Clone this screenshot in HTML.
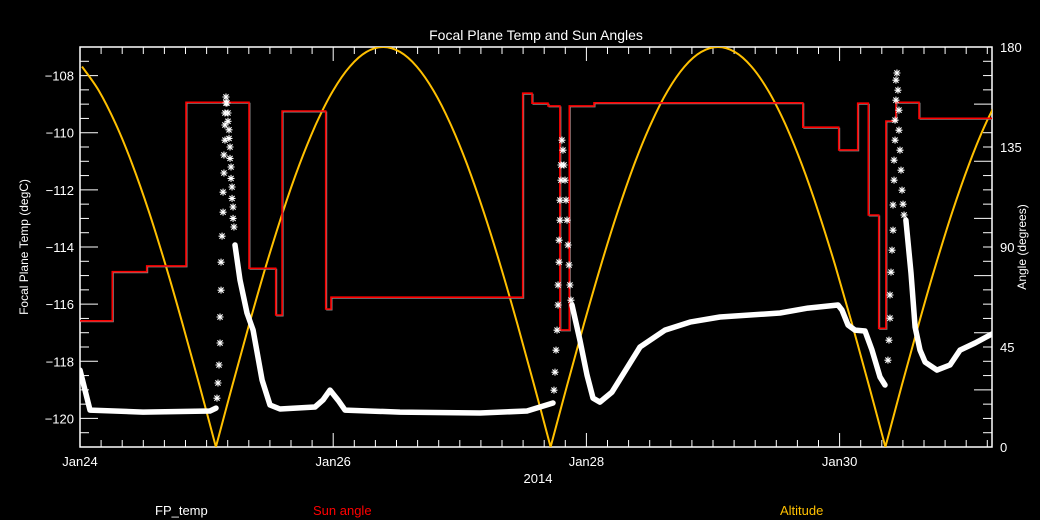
<!DOCTYPE html>
<html><head><meta charset="utf-8"><style>
html,body{margin:0;padding:0;background:#000;}
svg{display:block;font-family:"Liberation Sans",sans-serif;}
</style></head><body>
<svg id="chart" width="1040" height="520" xmlns="http://www.w3.org/2000/svg">
<rect x="0" y="0" width="1040" height="520" fill="#000"/>
<text x="536" y="40" fill="#fff" font-size="14" text-anchor="middle">Focal Plane Temp and Sun Angles</text>
<text transform="translate(28,247) rotate(-90)" fill="#fff" font-size="12" text-anchor="middle">Focal Plane Temp (degC)</text>
<text transform="translate(1026,247) rotate(-90)" fill="#fff" font-size="12" text-anchor="middle">Angle (degrees)</text>
<text x="538" y="483" fill="#fff" font-size="13" text-anchor="middle">2014</text>
<text x="155" y="515" fill="#fff" font-size="13">FP_temp</text>
<text x="313" y="515" fill="#ff0000" font-size="13">Sun angle</text>
<text x="780" y="515" fill="#ffc000" font-size="13">Altitude</text>
<defs><clipPath id="pc"><rect x="80" y="47" width="912" height="400"/></clipPath></defs>
<g id="axes"></g>
<g id="plot" clip-path="url(#pc)"></g>
</svg>
<script>
// x: days since Jan24 00:00
const xTickDays = [0, 2, 4, 6];
const xTickLabels = ["Jan24", "Jan26", "Jan28", "Jan30"];
const yTicks = [-120, -118, -116, -114, -112, -110, -108];
const y2Ticks = [0, 45, 90, 135, 180];
// Altitude samples: uniform time grid
const altStart = 0.016;
const altStep = 0.1322;
const altValues = [171.2,160.4,145.6,127.3,105.8,81.7,55.6,28.2,0,
 28.2,55.6,81.7,105.8,127.3,145.6,160.4,171.2,177.8,180,177.8,171.2,160.4,145.6,127.3,105.8,81.7,55.6,28.2,0,
 28.2,55.6,81.7,105.8,127.3,145.6,160.4,171.2,177.8,180,177.8,171.2,160.4,145.6,127.3,105.8,81.7,55.6,28.2,0,
 28.2,55.6,81.7,105.8,127.3,145.6,160.4];
// Sun angle step series
const sunTimes = [0,.255,.527,.837,1.335,1.546,1.596,1.941,1.983,3.497,3.570,3.697,3.791,3.865,4.060,5.709,5.993,6.143,6.227,6.309,6.366,6.445,6.627];
const sunValues = [56.8,78.9,81.5,155.1,80.4,59.4,151.2,62.1,67.4,159.2,154.7,153.5,52.7,153.5,154.9,143.9,133.7,154.7,104.4,53.4,146.7,155.1,147.9];
const sunEnd = 7.204;
// FP temp band segments
const fpBand1T = [0,.079,.498,1.027,1.074];
const fpBand1V = [-118.31,-119.71,-119.78,-119.74,-119.64];
const fpBand2T = [1.224,1.264,1.319,1.367,1.438,1.501,1.580,1.856,1.919,1.975,2.038,2.093,2.528,3.160,3.531,3.634,3.736];
const fpBand2V = [-113.93,-115.16,-116.31,-116.91,-118.66,-119.53,-119.67,-119.60,-119.36,-119.01,-119.36,-119.71,-119.78,-119.81,-119.74,-119.60,-119.46];
const fpBand3T = [3.886,3.949,4.005,4.052,4.107,4.202,4.423,4.621,4.818,5.055,5.529,5.750,5.987,6.019,6.066,6.122,6.201,6.256,6.319,6.359];
const fpBand3V = [-116.03,-117.26,-118.48,-119.29,-119.43,-119.08,-117.50,-116.91,-116.63,-116.45,-116.31,-116.14,-116.03,-116.21,-116.73,-116.91,-116.94,-117.61,-118.55,-118.83];
const fpBand4T = [6.524,6.564,6.596,6.635,6.675,6.769,6.872,6.951,7.070,7.188,7.25];
const fpBand4V = [-113.06,-114.91,-116.80,-117.61,-118.03,-118.31,-118.13,-117.61,-117.36,-117.08,-116.95];
// FP temp sparse samples (asterisks)
const fpStarT = [1.082,1.090,1.098,1.106,1.106,1.114,1.114,1.122,1.130,1.130,1.137,1.137,1.145,1.145,1.145,1.153,1.153,
 1.161,1.169,1.169,1.177,1.177,1.185,1.185,1.193,1.193,1.201,1.201,1.209,1.209,1.216,
 3.744,3.752,3.760,3.768,3.776,3.776,3.784,3.784,3.791,3.791,3.799,3.799,3.807,
 3.815,3.823,3.831,3.839,3.847,3.855,3.863,3.870,3.878,
 6.382,6.390,6.398,6.398,6.406,6.414,6.422,6.422,6.430,6.430,6.438,6.438,6.445,6.445,6.453,
 6.461,6.469,6.469,6.477,6.485,6.493,6.501,6.509];
const fpStarV = [-119.29,-118.76,-118.13,-117.36,-116.45,-115.51,-114.53,-113.62,-112.78,-112.08,-111.41,-110.78,-110.26,-109.73,-109.31,-108.96,-108.75,
 -108.96,-109.31,-109.6,-109.9,-110.2,-110.5,-110.9,-111.2,-111.6,-111.9,-112.3,-112.6,-113.0,-113.3,
 -119.01,-118.38,-117.61,-116.91,-116.03,-115.33,-114.53,-113.76,-113.06,-112.36,-111.66,-111.13,-110.26,
 -110.61,-111.13,-111.66,-112.36,-113.06,-113.93,-114.63,-115.33,-115.86,
 -117.96,-117.26,-116.49,-115.68,-114.88,-114.11,-113.41,-112.53,-111.66,-110.96,-110.26,-109.56,-108.86,-108.16,-107.91,
 -108.51,-109.21,-109.91,-110.61,-111.31,-112.01,-112.5,-112.88];

const X0=80, X1=992, Y0=447, Y1=47, DAYS=(X1-X0)/126.6;
const xs = d => X0 + d*126.6;
const yT = v => Y0 - (v + 121) / 14 * 400;
const yA = a => Y0 - a / 180 * 400;
const NS="http://www.w3.org/2000/svg";
const axes=document.getElementById('axes'), plot=document.getElementById('plot');
function mk(tag, attrs, parent){const e=document.createElementNS(NS,tag);for(const k in attrs)e.setAttribute(k,attrs[k]);parent.appendChild(e);return e;}

let frame = mk('rect',{x:X0,y:Y1,width:X1-X0,height:Y0-Y1,fill:'none',stroke:'#fff','stroke-width':1.5},axes);


for(let i=0;i*(1/6)<=DAYS+1e-6;i++){
  const d=i/6, x=xs(d), major=(i%12===0), len=major?14:7;
  const t1=mk('line',{x1:x,x2:x,y1:Y0,y2:Y0-len,stroke:'#fff'},axes);
  
  
  const t2=mk('line',{x1:x,x2:x,y1:Y1,y2:Y1+len,stroke:'#fff'},axes);
  
  
}
xTickDays.forEach((d,i)=>{
  const t=mk('text',{x:xs(d),y:466,fill:'#fff','font-size':13,'text-anchor':'middle'},axes);
  t.textContent=xTickLabels[i];
  
  
});
for(let v=-121;v<=-107;v+=0.5){
  const y=yT(v), major=Math.abs(v%2)===0;
  const t=mk('line',{x1:X0,x2:X0+(major?18:9),y1:y,y2:y,stroke:'#fff'},axes);
  
  
}
yTicks.forEach(v=>{
  const t=mk('text',{x:74,y:yT(v)+5,fill:'#fff','font-size':13,'text-anchor':'end'},axes);
  t.textContent='\u2212'+Math.abs(v);
  
  
});
for(let i=0;i<=28;i++){
  const y=Y0-i*400/28, major=(i%4===0);
  const t=mk('line',{x1:X1,x2:X1-(major?18:9),y1:y,y2:y,stroke:'#fff'},axes);
  
  
}
y2Ticks.forEach(a=>{
  const t=mk('text',{x:1000,y:yA(a)+5,fill:'#fff','font-size':13},axes);
  t.textContent=a;
  
  
});
// altitude: smooth (Catmull-Rom) arches, broken at zeros
function crPath(P){
  let d='M'+P[0][0].toFixed(1)+','+P[0][1].toFixed(1);
  for(let i=0;i<P.length-1;i++){
    const p0=P[i-1]||P[i], p1=P[i], p2=P[i+1], p3=P[i+2]||P[i+1];
    const c1=[p1[0]+(p2[0]-p0[0])/6, p1[1]+(p2[1]-p0[1])/6];
    const c2=[p2[0]-(p3[0]-p1[0])/6, p2[1]-(p3[1]-p1[1])/6];
    d+=`C${c1[0].toFixed(1)},${c1[1].toFixed(1)} ${c2[0].toFixed(1)},${c2[1].toFixed(1)} ${p2[0].toFixed(1)},${p2[1].toFixed(1)}`;
  }
  return d;
}
let segs=[[]];
altValues.forEach((v,i)=>{
  const p=[xs(altStart+i*altStep), yA(v)];
  segs[segs.length-1].push(p);
  if(v===0 && i>0 && i<altValues.length-1) segs.push([p]);
});
segs.forEach(s=>{
  if(s.length<2) return;
  const a=mk('path',{d:crPath(s),fill:'none',stroke:'#ffc000','stroke-width':2},plot);
  
  
});
let sp=[];
sunTimes.forEach((t,i)=>{const tn=i+1<sunTimes.length?sunTimes[i+1]:sunEnd;sp.push(xs(t).toFixed(1)+','+yA(sunValues[i]).toFixed(1));sp.push(xs(tn).toFixed(1)+','+yA(sunValues[i]).toFixed(1));});
const gray=mk('polyline',{points:sp.join(' '),fill:'none',stroke:'#888','stroke-width':1,transform:'translate(1,1)'},plot);


const sun=mk('polyline',{points:sp.join(' '),fill:'none',stroke:'#ff0000','stroke-width':1.6},plot);


[[fpBand1T,fpBand1V],[fpBand2T,fpBand2V],[fpBand3T,fpBand3V],[fpBand4T,fpBand4V]].forEach(([T,V])=>{
  const pts=T.map((t,i)=>xs(t).toFixed(1)+','+yT(V[i]).toFixed(1)).join(' ');
  const b=mk('polyline',{points:pts,fill:'none',stroke:'#fff','stroke-width':5.5,'stroke-linejoin':'round','stroke-linecap':'round'},plot);
  
  
});
fpStarT.forEach((t,i)=>{
  const x=xs(t), y=yT(fpStarV[i]);
  const d=`M${x-3.5},${y}H${x+3.5}M${x},${y-3.5}V${y+3.5}M${x-2.6},${y-2.6}L${x+2.6},${y+2.6}M${x-2.6},${y+2.6}L${x+2.6},${y-2.6}`;
  const s=mk('path',{d:d,stroke:'#fff','stroke-width':1.1,fill:'none'},plot);
  
  
});
</script>
</body></html>
